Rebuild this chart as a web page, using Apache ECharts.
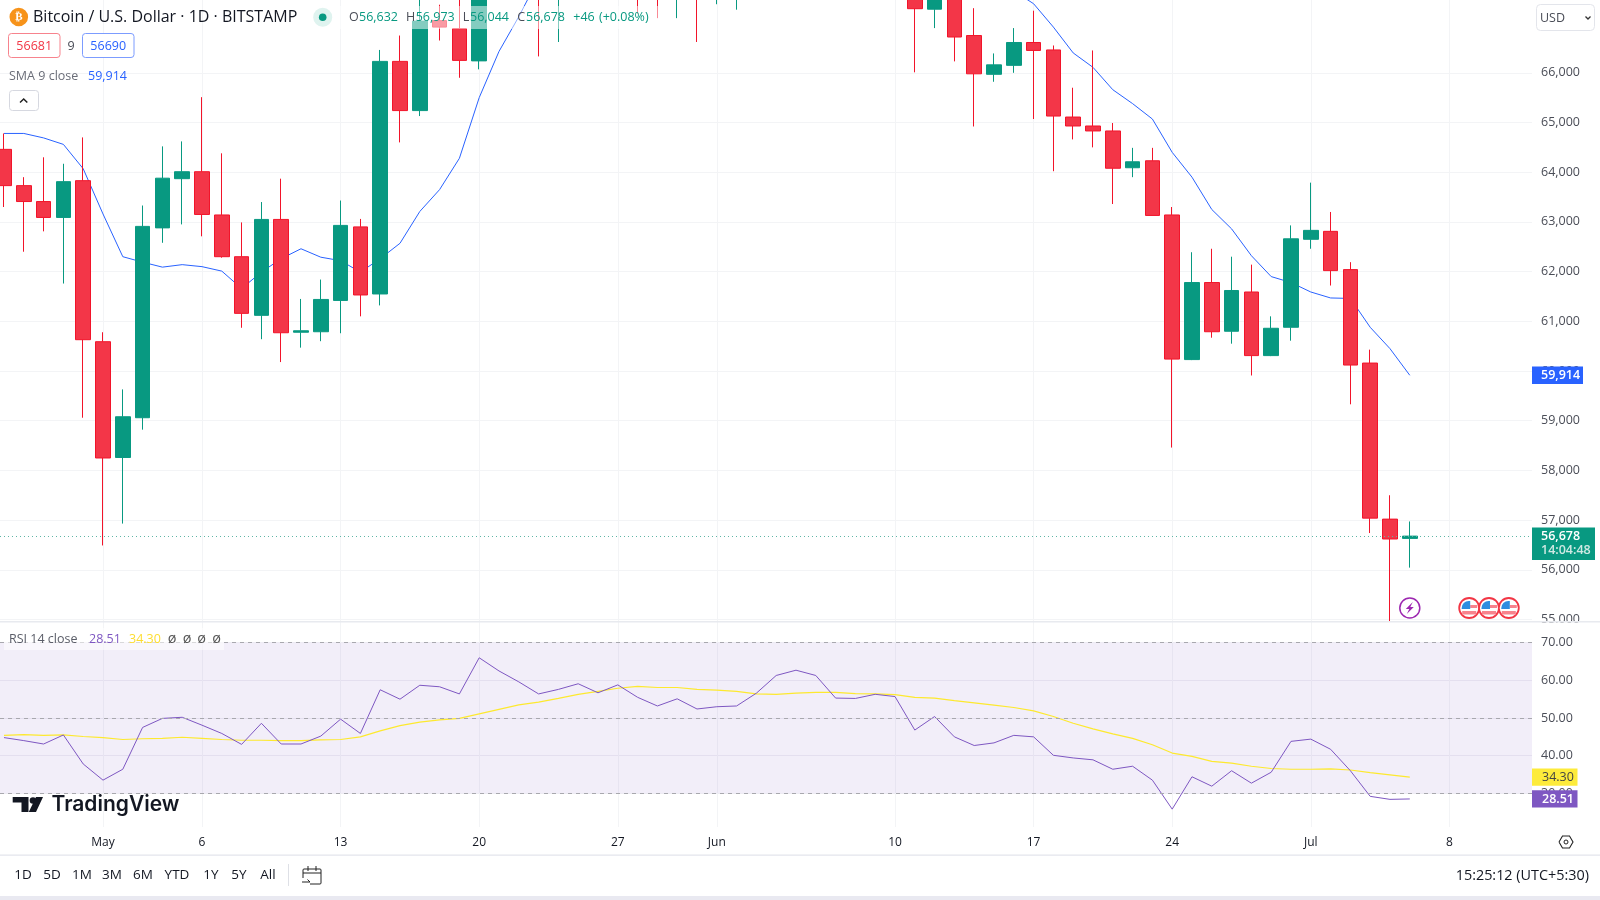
<!DOCTYPE html>
<html><head><meta charset="utf-8">
<style>html,body{margin:0;padding:0;background:#fff}#c{width:1600px;height:900px}</style>
<script src="https://cdn.jsdelivr.net/npm/echarts@6/dist/echarts.min.js"></script>
</head><body><div id="c"></div>
<script>
// Daily candles, day index 0 = 26 Apr, 71 = 6 Jul
const opens = [64460,63730,63410,63090,63830,60590,58260,59060,62880,63870,64010,63140,62300,61120,63050,60780,60790,61420,62900,61550,66230,65240,67050,66890,66240,71400,70130,69100,67900,68500,69280,68500,69400,68300,67600,68350,67500,67750,67770,68800,70560,71080,70760,69340,69300,69650,69500,67280,68250,66750,65970,66150,66610,66460,65110,64930,64830,64090,64230,63140,60230,61780,60800,61590,60310,60880,62650,62810,62040,60160,57020,56632];
const closes = [63730,63410,63090,63810,60630,58250,59080,62910,63880,64010,63150,62300,61160,63050,60770,60810,61440,62930,61530,66230,65240,67040,66920,66250,71400,70130,69100,67900,68500,69280,68500,69400,68300,67600,68350,67500,67750,67770,68800,70560,71080,70760,69340,69300,69650,69500,67290,68250,66720,65980,66160,66610,66450,65130,64930,64830,64080,64210,63130,60240,61780,60790,61620,60310,60860,62660,62830,62020,60120,57040,56620,56678];
const lows = [63300,62400,62810,61760,59060,56490,56930,58820,62580,62950,62710,62280,60870,60640,60180,60470,60600,60760,61100,61320,64600,65130,66650,65900,66070,69200,68900,66330,66620,68500,68400,68500,67190,67100,67100,66620,67380,67270,67650,68500,70400,70300,68500,69200,69100,69200,66010,66900,66230,64920,65820,66000,65070,64020,64660,64500,63360,63900,63130,58460,60220,60670,60550,59910,60300,60610,62460,61720,59330,56740,54960,56044];
const highs = [64780,63900,64300,64170,64700,60780,59630,63330,64520,64620,65510,64380,62990,63400,63870,61450,61840,63430,63060,66460,66750,67500,67370,67500,71500,71900,70600,70000,69200,69500,69500,70600,69600,68900,69500,69000,67900,68400,70200,71000,71800,71600,71900,69500,69900,70200,69560,70000,68400,67300,66390,66900,67250,66550,65700,66450,64990,64490,64490,63300,62390,62460,62300,62140,61100,62930,63790,63200,62190,60430,57500,56973];
const smaClose = [64780,64780,64690,64560,64070,63160,62300,62190,62090,62140,62100,62010,61660,61990,62260,62460,62290,62220,61990,62260,62570,63210,63650,64280,65500,66430,67130,67900,68400,69000,69100,69200,69200,69000,68800,68500,68300,68100,68000,68100,68500,68800,69000,69300,69400,69500,69200,68800,68500,68200,67900,67650,67390,66920,66400,66110,65660,65380,65070,64400,63900,63250,62860,62320,61900,61780,61590,61470,61460,60880,60450,59914];
const rsi = [44.8,44.0,43.1,45.5,37.8,33.5,36.4,47.5,49.9,50.2,48.1,45.9,43.0,48.6,43.1,43.1,45.2,49.7,45.9,57.5,55.0,58.7,58.3,56.4,66.0,62.5,59.6,56.4,57.6,59.1,56.7,58.8,55.5,53.2,55.1,52.4,53.0,53.2,56.6,61.3,62.7,61.3,55.3,55.2,56.3,55.7,46.8,50.4,45.0,42.7,43.4,45.4,45.0,40.1,39.4,38.9,36.4,37.2,33.5,25.8,34.4,31.9,36.0,32.7,35.6,43.8,44.4,41.7,36.0,29.2,28.4,28.51];
const rsiMa = [45.4,45.6,45.4,45.5,45.1,44.8,44.3,44.5,44.6,44.9,44.6,44.3,44.1,44.1,44.0,44.0,44.2,44.3,45.0,46.6,48.0,48.9,49.5,49.9,51.1,52.3,53.5,54.2,55.2,56.3,57.1,57.9,58.4,58.1,58.1,57.6,57.4,57.1,56.4,56.3,56.6,56.8,56.8,56.5,56.4,56.2,55.5,55.3,54.6,54.0,53.4,52.8,51.9,50.4,48.6,47.1,45.8,44.6,42.9,40.7,39.8,38.5,38.0,37.2,36.6,36.4,36.4,36.5,36.2,35.5,34.9,34.30];
const dateTickIdx = [5,10,17,24,31,36,45,52,59,66,73];
const dateTickLabels = ['May','6','13','20','27','Jun','10','17','24','Jul','8'];
const priceTicks = [55000,56000,57000,58000,59000,60000,61000,62000,63000,64000,65000,66000];
const rsiTicks = [30,40,50,60,70];
const ranges = ['1D','5D','1M','3M','6M','YTD','1Y','5Y','All'];
const eventDays = [74,75,76];

const FONT = '"Open Sans"';
const GRID = '#f3f4f6', TXT = '#4a4d57';
const idx = a => a.map((v,i)=>[i,v]);
const xBase = {type:'value',min:-0.202,max:77.172,axisLine:{show:false},axisTick:{show:false,customValues:dateTickIdx},
  splitLine:{show:true,lineStyle:{color:GRID,width:1}}};
const chart = echarts.init(document.getElementById('c'),null,{renderer:'canvas'});
chart.setOption({
  animation:false,backgroundColor:'#fff',
  grid:[{left:0,top:0,width:1532,height:622},{left:0,top:622,width:1532,height:205}],
  xAxis:[
    Object.assign({},xBase,{gridIndex:0,axisLabel:{show:false}}),
    Object.assign({},xBase,{gridIndex:1,axisLabel:{show:true,customValues:dateTickIdx,margin:10,fontFamily:FONT,fontSize:12,
      color:v=>/\D/.test(dateTickLabels[dateTickIdx.indexOf(v)])?'#131722':'#4a4d57',
      fontWeight:500,
      formatter:v=>dateTickLabels[dateTickIdx.indexOf(v)]}})
  ],
  yAxis:[
    {gridIndex:0,type:'value',position:'right',min:54950,max:67465,axisLine:{show:false},
     axisTick:{show:false,customValues:priceTicks},splitLine:{show:true,lineStyle:{color:GRID}},
     axisLabel:{customValues:priceTicks,margin:9,fontFamily:FONT,fontSize:12.5,color:TXT,padding:[2,0,0,0],formatter:v=>v.toLocaleString('en-US')}},
    {gridIndex:1,type:'value',position:'right',min:21.06,max:75.5,axisLine:{show:false},
     axisTick:{show:false,customValues:rsiTicks},splitLine:{show:true,lineStyle:{color:'#f0eff4'}},
     axisLabel:{customValues:rsiTicks,margin:9,fontFamily:FONT,fontSize:12.5,color:TXT,padding:[2,0,0,0],formatter:v=>v.toFixed(2)}}
  ],
  series:[
    {type:'line',name:'SMA 9',xAxisIndex:0,yAxisIndex:0,data:idx(smaClose),showSymbol:false,z:3,
     lineStyle:{color:'#2962FF',width:1}},
    {type:'candlestick',name:'BTCUSD',xAxisIndex:0,yAxisIndex:0,barWidth:15,z:4,
     data:opens.map((o,i)=>[i,o,closes[i],lows[i],highs[i]]),
     itemStyle:{color:'#089981',color0:'#F33648',borderColor:'#089981',borderColor0:'#F2142A',borderWidth:1},
     markLine:{silent:true,symbol:'none',label:{show:false},
       lineStyle:{color:'#5fb5a5',type:[1,3],width:1},data:[{yAxis:closes[closes.length-1]}]}},
    {type:'line',name:'RSI',xAxisIndex:1,yAxisIndex:1,data:idx(rsi),showSymbol:false,z:4,
     lineStyle:{color:'#7E57C2',width:1},
     markArea:{silent:true,itemStyle:{color:'rgba(126,87,194,0.1)'},data:[[{yAxis:30},{yAxis:70}]]},
     markLine:{silent:true,symbol:'none',label:{show:false},
       lineStyle:{color:'#a8a8ae',type:[4,4],width:1},data:[{yAxis:30},{yAxis:50},{yAxis:70}]}},
    {type:'line',name:'RSI MA',xAxisIndex:1,yAxisIndex:1,data:idx(rsiMa),showSymbol:false,z:3,
     lineStyle:{color:'#FDE92F',width:1.2}}
  ]
});

const last = a => a[a.length-1];
const yP = v => chart.convertToPixel({yAxisIndex:0},v);
const yR = v => chart.convertToPixel({yAxisIndex:1},v);
const xP = v => chart.convertToPixel({xAxisIndex:0},v);
const Z = 100;
const T = (text,x,y,fill,size,extra) => ({type:'text',z:Z+2,x,y,silent:true,style:Object.assign({text,fill:fill||TXT,
  font:(extra&&extra.weight||'400')+' '+(size||13)+'px '+(extra&&extra.family||FONT),align:extra&&extra.align||'left',verticalAlign:'middle'})});
const R = (x,y,w,h,fill,stroke,r,z) => ({type:'rect',z:z||Z,silent:true,shape:{x,y,width:w,height:h,r:r||0},
  style:{fill:fill||'none',stroke:stroke||'none',lineWidth:1}});
const C = (cx,cy,r,fill,stroke,lw,z) => ({type:'circle',z:z||Z,silent:true,shape:{cx,cy,r},style:{fill:fill||'none',stroke:stroke||'none',lineWidth:lw||1}});
const L = (pts,stroke,lw,z) => ({type:'polyline',z:z||Z+1,silent:true,shape:{points:pts},style:{fill:'none',stroke,lineWidth:lw||1}});
const P = (pts,fill,z) => ({type:'polygon',z:z||Z+1,silent:true,shape:{points:pts},style:{fill}});

const G = '#089981', els = [];
// header
els.push(R(340,6,318,23,'rgba(255,255,255,0.5)'));
els.push(C(18.8,17,9.3,'#F7931A'),T('₿',18.8,17,'#fff',11,{align:'center',weight:'700'}));
els.push(T('Bitcoin / U.S. Dollar · 1D · BITSTAMP',33,17.5,'#131722',16));
els.push(C(322.7,17.3,9.5,'#dff3ef'),C(322.7,17.3,3.8,G));
els.push(T('O',349,17.5,TXT,12.5),T('56,632',359,17.5,G,12.5),T('H',406,17.5,TXT,12.5),T('56,973',415.7,17.5,G,12.5),
  T('L',462.7,17.5,TXT,12.5),T('56,044',470,17.5,G,12.5),T('C',517.3,17.5,TXT,12.5),T('56,678',526,17.5,G,12.5),
  T('+46',573.3,17.5,G,12.5),T('(+0.08%)',599,17.5,G,12.5));
els.push(R(8.5,33.5,51.5,24,'#fff','#F7838D',3),T('56681',34.2,46,'#F23645',12.5,{align:'center'}));
els.push(T('9',71,46,TXT,12.5,{align:'center'}));
els.push(R(82.5,33.5,51.5,24,'#fff','#7C9CFF',3),T('56690',108.2,46,'#2962FF',12.5,{align:'center'}));
els.push(T('SMA 9 close',9,76,'#6a6d78',12.5),T('59,914',88,76,'#2962FF',12.5));
els.push(R(9.5,90.5,29,20,'#fff','#d6d8e0',3),L([[20,102.5],[23.7,99],[27.3,102.5]],'#222',1.5));
// USD box
els.push(R(1536.5,4.5,58,26,'#fff','#e3e5eb',4),T('USD',1540,18.5,TXT,12.5),L([[1585.5,16.5],[1588,19],[1590.5,16.5]],'#333',1.3));
// pane separator: hides what runs past the price pane
els.push(R(1532,622.5,68,7,'#fff',null,0,Z+3),R(0,621,1600,1.5,'#e8eaef',null,0,Z+3));
// price tags
const ySma = yP(last(smaClose));
els.push(R(1532,ySma-8.7,51,17.3,'#2962FF'),T('59,914',1541,ySma,'#fff',12.5,{weight:'600'}));
const yLast = yP(last(closes));
els.push(R(1532,yLast-8.5,63,32.5,G),T('56,678',1541,yLast+.5,'#fff',12.5,{weight:'600'}),T('14:04:48',1541,yLast+14.5,'#cfe9e3',12.5,{weight:'600'}));
// RSI legend
els.push(R(4,628,220,22,'rgba(255,255,255,0.55)'));
els.push(T('RSI 14 close',9,639.5,'#5a5d68',12.5),T('28.51',89,639.5,'#7E57C2',12.5),T('34.30',129,639.5,'#FDDD2F',12.5));
[172,187,201.5,216.5].forEach(x=>els.push(T('ø',x,639,'#555',14.5,{align:'center'})));
// RSI tags
const yMa = yR(last(rsiMa)), yRs = yR(last(rsi));
els.push(R(1532,yMa-8.7,45.5,17.3,'#FDEB3B'),T('34.30',1542,yMa,'#444',12.5));
els.push(R(1532,yRs-8.7,45.5,17.3,'#7E57C2'),T('28.51',1542,yRs,'#fff',12.5,{weight:'600'}));
// TradingView logo
els.push(P([[12.7,797],[28.5,797],[28.5,812],[21.5,812],[21.5,802.5],[12.7,802.5]],'#131722'),
  C(33,800.5,3.3,'#131722',null,1,Z+1),P([[36,797],[43,797],[36,812],[28.8,812]],'#131722'));
els.push(T('TradingView',51.5,805,'#131722',21,{weight:'600',family:'Inter'}));
// event markers on the price pane
const yEv = 608;
const xEv0 = xP(71);
els.push(C(xEv0,yEv,10,'#fff','#9C27B0',1.5),P([[xEv0+3,yEv-6],[xEv0-4,yEv+1],[xEv0-.5,yEv+1],[xEv0-3,yEv+6],[xEv0+4,yEv-1],[xEv0+.5,yEv-1]],'#9C27B0'));
eventDays.forEach((d,i)=>{const x=xP(d),z=Z+i*2;
  els.push(C(x,yEv,10,'#fff','#F23645',1.8,z),
    R(x+1,yEv-3,7,3,'#F7838D',null,0,z+1),R(x-7,yEv+3,14,3.5,'#F7838D',null,0,z+1),R(x-7.5,yEv-7,8.5,8,'#2E8DE0',null,[7,0,0,0],z+1));
});
// bottom bar
els.push(R(0,854.5,1600,1.2,'#e3e5ec'),R(0,896,1600,4,'#e9e9f1'));
[23,52,82,112,143,177,211,239,268].forEach((x,i)=>els.push(T(ranges[i],x,875.5,'#131722',13.5,{align:'center'})));
els.push(R(288,864,.8,22,'#d6d8e0'));
els.push(R(303,869,18,15,'#fff','#222',1),L([[303,873],[321,873]],'#222',1),L([[308,866],[308,871]],'#222',1),L([[316,866],[316,871]],'#222',1),
  R(301,878,9,8,'#fff',null,0,Z+1),L([[302,882],[310,882],[307.5,879.5]],'#222',1,Z+2));
els.push(T('15:25:12 (UTC+5:30)',1589,875.5,'#131722',14.4,{align:'right'}));
els.push(L([[1559,842],[1562.5,836],[1569.5,836],[1573,842],[1569.5,848],[1562.5,848],[1559,842]],'#222',1.1),C(1566,842,2,null,'#222',1,Z+1));
chart.setOption({graphic:{elements:els}});
</script></body></html>
